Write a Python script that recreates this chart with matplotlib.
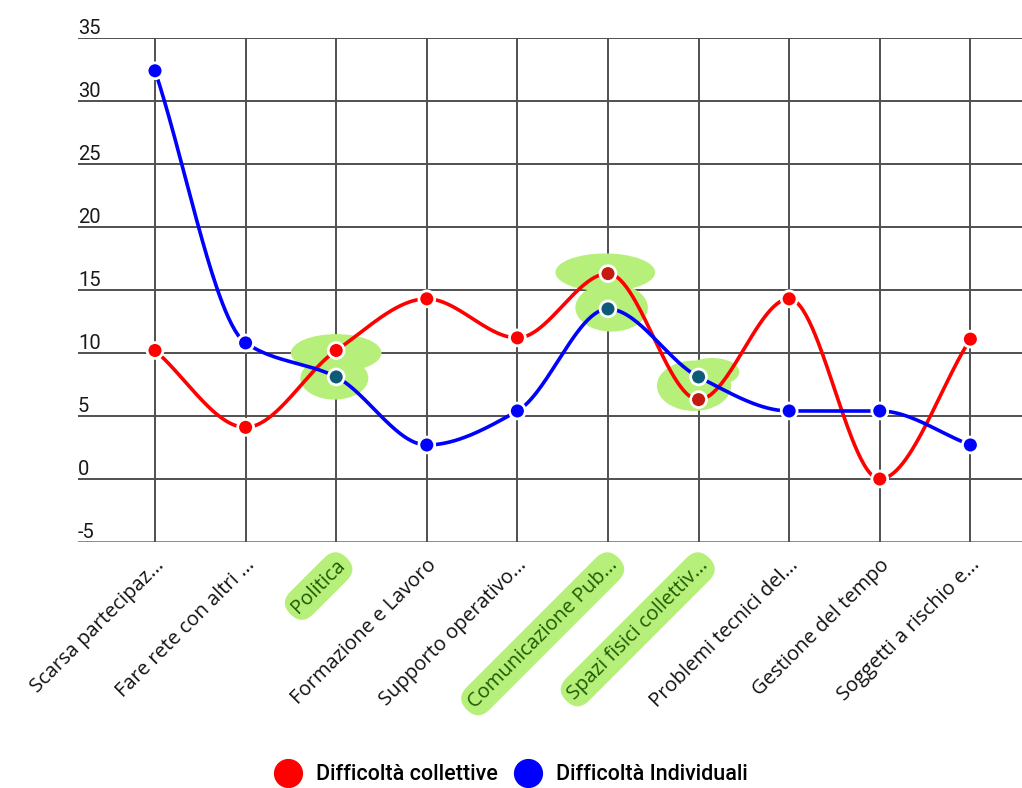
import numpy as np
import matplotlib
matplotlib.use("Agg")
import matplotlib.pyplot as plt
from matplotlib.patches import Ellipse
import matplotlib.transforms as mtransforms

categories = ["Scarsa partecipaz...", "Fare rete con altri ...", "Politica",
              "Formazione e Lavoro", "Supporto operativo...", "Comunicazione Pub...",
              "Spazi fisici collettiv...", "Problemi tecnici del...", "Gestione del tempo",
              "Soggetti a rischio e..."]
collettive = [10.2, 4.1, 10.2, 14.3, 11.2, 16.3, 6.3, 14.3, 0.0, 11.1]
individuali = [32.4, 10.8, 8.1, 2.7, 5.4, 13.5, 8.1, 5.4, 5.4, 2.7]
yticks = [-5, 0, 5, 10, 15, 20, 25, 30, 35]
series_names = ["Difficoltà collettive", "Difficoltà Individuali"]
highlighted = [2, 5, 6]

RED = "#ff0000"
BLUE = "#0000ff"
HL = "#b6f07a"


def monotone_cubic(x, y, n=60):
    x = np.asarray(x, float)
    y = np.asarray(y, float)
    h = np.diff(x)
    d = np.diff(y) / h
    m = np.zeros_like(y)
    m[0] = d[0]
    m[-1] = d[-1]
    for i in range(1, len(y) - 1):
        if d[i - 1] * d[i] <= 0:
            m[i] = 0
        else:
            w1 = 2 * h[i] + h[i - 1]
            w2 = h[i] + 2 * h[i - 1]
            m[i] = (w1 + w2) / (w1 / d[i - 1] + w2 / d[i])
    xs, ys = [], []
    for i in range(len(x) - 1):
        t = np.linspace(0, 1, n)
        h00 = 2 * t**3 - 3 * t**2 + 1
        h10 = t**3 - 2 * t**2 + t
        h01 = -2 * t**3 + 3 * t**2
        h11 = t**3 - t**2
        xs.append(x[i] + t * h[i])
        ys.append(h00 * y[i] + h10 * h[i] * m[i] + h01 * y[i + 1] + h11 * h[i] * m[i + 1])
    return np.concatenate(xs), np.concatenate(ys)


fig = plt.figure(figsize=(10.22, 7.88), dpi=100)
ax = fig.add_axes([78 / 1022, 1 - 542 / 788, 1 - 78 / 1022, (542 - 38) / 788])
ax.set_xlim(-0.85, 9.57)
ax.set_ylim(-5, 35)
ax.axis("off")

x = np.arange(len(categories))

# grid
for yv in yticks:
    ax.axhline(yv, color="#8a8a8a" if yv == yticks[0] else "#505050", lw=1.4, zorder=1)
    ax.text(0, yv, str(yv), transform=mtransforms.blended_transform_factory(ax.transAxes, ax.transData),
            ha="left", va="bottom", fontsize=14.5, family="Roboto", color="#1a1a1a")
for xi in x:
    ax.plot([xi, xi], [-5, 35], color="#505050", lw=1.4, zorder=1, solid_capstyle="butt")

# highlighter blobs around points
blobs = [((2.0, 10.0), 1.0, 3.0), ((1.98, 8.0), 0.75, 3.4),
         ((4.97, 16.4), 1.1, 3.0), ((5.04, 13.6), 0.8, 3.8),
         ((5.95, 7.4), 0.82, 4.0), ((6.15, 8.5), 0.6, 2.2)]
for c, w, hgt in blobs:
    ax.add_patch(Ellipse(c, w, hgt, color=HL, zorder=2, lw=0))

for vals, col, dark in [(collettive, RED, "#c41a10"), (individuali, BLUE, "#0d5a78")]:
    xs, ys = monotone_cubic(x, vals)
    ax.plot(xs, ys, color=col, lw=2.6, zorder=3, solid_capstyle="round")
    cols = [dark if i in highlighted and i != 2 else col for i in range(len(vals))]
    if col == BLUE:
        cols[2] = dark
    ax.scatter(x, vals, s=130, c=cols, edgecolors="white", linewidths=2, zorder=4)

# x labels
for i, lab in enumerate(categories):
    hl = i in highlighted
    t = ax.text(i + 0.07, -6.6, lab, rotation=45, rotation_mode="anchor", ha="right", va="center",
                fontsize=14.5, family="Open Sans", color="#1f5a00" if hl else "#111111")
    if hl:
        t.set_bbox(dict(boxstyle="round,pad=0.3,rounding_size=0.8", facecolor=HL, edgecolor="none"))

# legend
handles = [plt.Line2D([], [], marker="o", ls="", color=RED, markersize=20),
           plt.Line2D([], [], marker="o", ls="", color=BLUE, markersize=20)]
fig.legend(handles, series_names, loc="center", bbox_to_anchor=(0.5, 1 - 775 / 788), ncol=2,
           frameon=False, prop={"family": "Roboto", "size": 15.5, "weight": "medium"},
           handletextpad=0.7, columnspacing=0.8, handlelength=1.2)

fig.savefig("out.png", dpi=100)
